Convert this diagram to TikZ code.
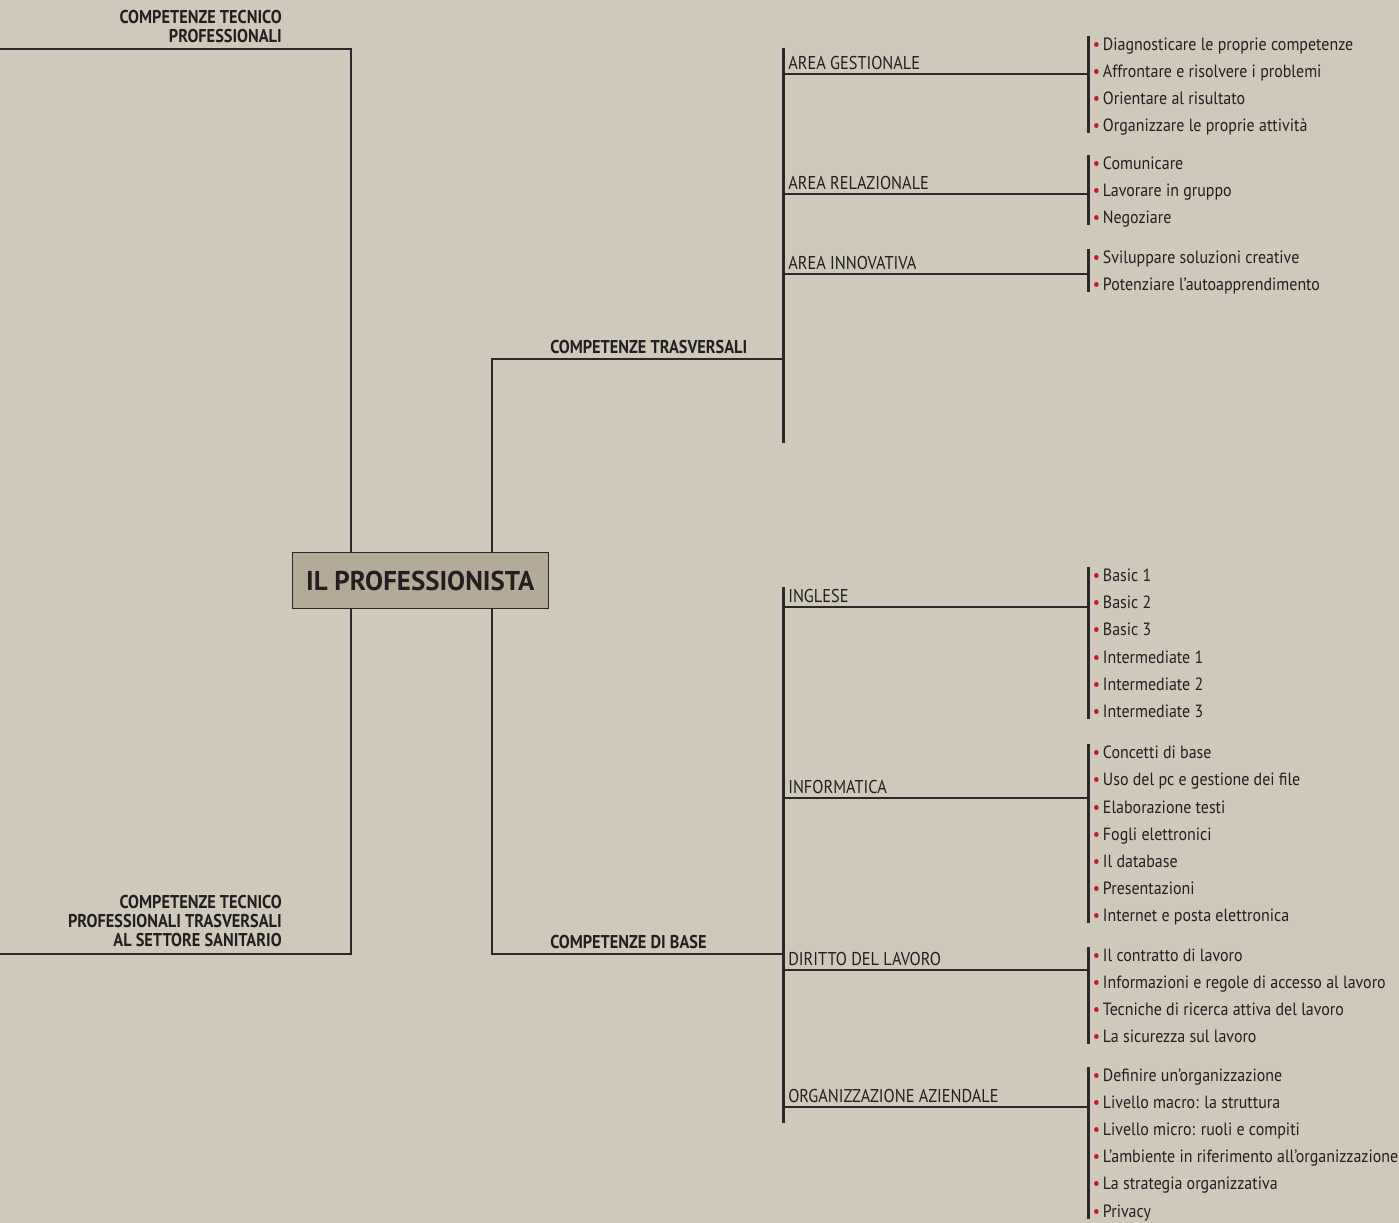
\documentclass[tikz,border=0pt]{standalone}
\usepackage{fontspec}
\setmainfont{PT Sans}[FakeStretch=0.88]
\newfontfamily\itemfam{PT Sans}[FakeStretch=0.90]
\newfontfamily\titlefam{PT Sans}[FakeStretch=0.99]
\definecolor{paper}{RGB}{206,201,186}
\definecolor{boxfill}{RGB}{179,171,151}
\definecolor{ink}{RGB}{35,31,32}
\definecolor{rulecol}{RGB}{42,40,40}
\definecolor{dotred}{RGB}{200,20,45}

\newcommand\lblfont{\fontsize{13.9}{16}\selectfont}
\newcommand\itmfont{\itemfam\fontsize{13.3}{16}\selectfont}
\newcommand\hdfont{\bfseries\fontsize{13.9}{14.25}\selectfont}
\newcommand\ttlfont{\titlefam\bfseries\fontsize{20.4}{24}\selectfont}

% one area: label on a rule from the spine to a bracket of bullet items
% #1 id, #2 label, #3 rule y, #4 first item baseline, #5 item count, #6 items
\newcommand\branch[6]{%
  \coordinate (#1-a) at (783,#3);
  \coordinate (#1-b) at (1088,#3);
  \coordinate (#1-top) at (1088,{#4-14.5});
  \coordinate (#1-bot) at (1088,{#4+27.1*(#5-1)+1.5});
  \node[areatext] (#1) at (788,{#3-4.5}) {#2};
  \draw[thinrule] (#1-a) -- (#1-b);
  \draw[thickrule] (#1-top) -- (#1-bot);
  \foreach \itm [count=\i from 0] in {#6}
    \node[itemtext] (#1-\i) at (1092.5,{#4+27.1*\i}) {\textcolor{dotred}{•}\,\itm};
}

\begin{document}
\begin{tikzpicture}[x=0.75pt,y=-0.75pt,
  thinrule/.style={draw=rulecol,line width=1.3pt},
  thickrule/.style={draw=rulecol,line width=2.25pt},
  areatext/.style={anchor=base west,inner sep=0pt,text=ink,font=\lblfont},
  itemtext/.style={anchor=base west,inner sep=0pt,text=ink,font=\itmfont},
  headtext/.style={inner sep=0pt,text=ink,font=\hdfont},
  titlebox/.style={draw=rulecol,line width=1.1pt,fill=boxfill,text=ink,
    font=\ttlfont,minimum width=192pt,minimum height=42pt,inner sep=0pt}]

\fill[paper] (0,0) rectangle (1399,1223);
\useasboundingbox (0,0) rectangle (1399,1223);

% central box
\node[titlebox] (pro) at (420.3,580.7) {IL PROFESSIONISTA};

% left branches
\coordinate (tl-end) at (0,49);
\coordinate (tl-corner) at (351,49);
\coordinate (bl-end) at (0,954);
\coordinate (bl-corner) at (351,954);
\draw[thinrule] (tl-end) -- (tl-corner) -- (tl-corner |- pro.north);
\draw[thinrule] (bl-end) -- (bl-corner) -- (bl-corner |- pro.south);
% multi-line labels: the base anchor sits on the last line
\node[headtext,anchor=base east,align=right] (ctp) at (282,42.3)
  {COMPETENZE TECNICO\\PROFESSIONALI};
\node[headtext,anchor=base east,align=right] (ctps) at (282,946.7)
  {COMPETENZE TECNICO\\PROFESSIONALI TRASVERSALI\\AL SETTORE SANITARIO};

% right branches
\coordinate (tr-corner) at (492,359);
\coordinate (tr-end) at (783,359);
\coordinate (br-corner) at (492,954);
\coordinate (br-end) at (783,954);
\draw[thinrule] (tr-end) -- (tr-corner) -- (tr-corner |- pro.north);
\draw[thinrule] (br-end) -- (br-corner) -- (br-corner |- pro.south);
\node[headtext,anchor=base west] (ctr) at (550,353.5) {COMPETENZE TRASVERSALI};
\node[headtext,anchor=base west] (cdb) at (550,948.5) {COMPETENZE DI BASE};

% spines
\coordinate (up-top) at (783,48);
\coordinate (up-bot) at (783,442.7);
\coordinate (lo-top) at (783,586.7);
\coordinate (lo-bot) at (783,1122.7);
\draw[thickrule] (up-top) -- (up-bot);
\draw[thickrule] (lo-top) -- (lo-bot);

\branch{ges}{AREA GESTIONALE}{74}{50.5}{4}{Diagnosticare le proprie competenze,
  Affrontare e risolvere i problemi,Orientare al risultato,
  Organizzare le proprie attività}
\branch{rel}{AREA RELAZIONALE}{194.3}{169.5}{3}{Comunicare,Lavorare in gruppo,Negoziare}
\branch{inn}{AREA INNOVATIVA}{273.7}{263.8}{2}{Sviluppare soluzioni creative,
  Potenziare l’autoapprendimento}
\branch{ing}{INGLESE}{606.7}{581.7}{6}{Basic 1,Basic 2,Basic 3,Intermediate 1,
  Intermediate 2,Intermediate 3}
\branch{inf}{INFORMATICA}{798.3}{758.8}{7}{Concetti di base,
  Uso del pc e gestione dei file,Elaborazione testi,Fogli elettronici,
  Il database,Presentazioni,Internet e posta elettronica}
\branch{dir}{DIRITTO DEL LAVORO}{970}{961.5}{4}{Il contratto di lavoro,
  Informazioni e regole di accesso al lavoro,
  Tecniche di ricerca attiva del lavoro,La sicurezza sul lavoro}
\branch{org}{ORGANIZZAZIONE AZIENDALE}{1107.3}{1081.5}{6}{Definire un’organizzazione,
  Livello macro: la struttura,Livello micro: ruoli e compiti,
  L’ambiente in riferimento all’organizzazione,La strategia organizzativa,Privacy}

\end{tikzpicture}
\end{document}
